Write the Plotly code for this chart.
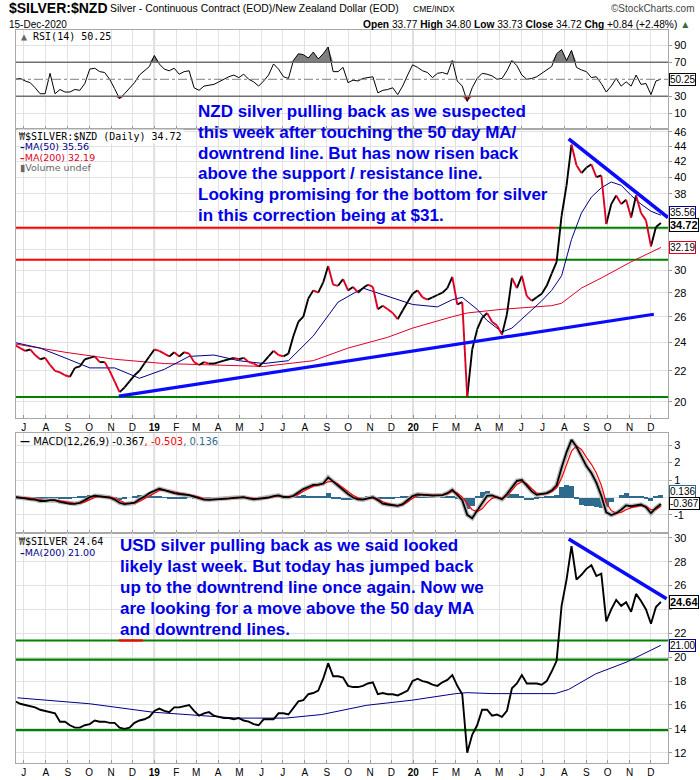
import math
import pandas as pd
import plotly.graph_objects as go

# ------------------------------------------------------------------ DATA
week_start = "2018-06-19"   # weekly (7-day) samples, last = 2020-12-15

nzd_close = [
    23.8, 23.6, 23.4, 23.5, 23.1, 22.8, 22.9, 22.4, 22.0, 21.9,
    21.7, 21.6, 22.2, 22.3, 22.8, 22.9, 23.0, 22.6, 22.6, 22.0,
    21.3, 20.6, 20.9, 21.3, 21.7, 22.0, 22.5, 23.0, 23.5, 23.4,
    23.2, 23.0, 23.3, 23.0, 23.3, 23.2, 22.6, 22.4, 22.6, 22.5,
    22.5, 22.6, 22.7, 22.8, 22.9, 22.8, 22.9, 22.6, 22.5, 22.3,
    22.6, 23.0, 23.4, 23.1, 23.0, 23.2, 24.5, 25.6, 26.0, 27.5,
    28.2, 28.0, 28.9, 30.4, 28.7, 28.6, 29.2, 28.2, 28.5, 28.0,
    28.4, 28.7, 28.5, 26.6, 26.9, 26.6, 26.3, 25.8, 26.5, 27.2,
    27.9, 28.2, 27.6, 27.4, 27.6, 27.8, 28.0, 28.4, 29.4, 27.0,
    27.2, 20.3, 23.5, 25.0, 25.9, 26.3, 25.6, 25.3, 24.6, 26.2,
    29.3, 28.4, 29.5, 27.7, 27.3, 27.6, 27.9, 28.6, 29.7, 30.8,
    35.5, 39.0, 44.2, 41.5, 40.5, 41.2, 41.6, 40.0, 40.2, 34.6,
    36.8, 37.8, 36.8, 37.3, 35.3, 37.8, 35.8, 35.0, 32.3, 34.3,
    34.72,
]

usd_close = [
    16.3, 16.1, 16.0, 15.9, 15.8, 15.6, 15.5, 15.4, 15.3, 14.6,
    14.6, 14.3, 14.1, 14.1, 14.3, 14.4, 14.7, 14.6, 14.6, 14.5,
    14.5, 14.1, 14.0, 14.1, 14.5, 14.7, 14.8, 15.0, 15.5, 15.7,
    15.5, 15.4, 15.8, 15.8, 15.9, 16.0, 15.5, 15.1, 15.3, 15.4,
    15.1, 15.0, 14.9, 14.9, 14.8, 14.9, 14.7, 14.6, 14.4, 14.3,
    14.8, 14.8, 14.8, 15.3, 15.3, 15.2, 15.8, 16.3, 16.4, 16.9,
    17.0, 17.2, 18.2, 19.5, 18.4, 18.4, 18.3, 17.6, 17.5, 17.5,
    17.6, 17.8, 17.9, 16.9, 17.0, 16.9, 16.9, 16.8, 17.0, 17.2,
    18.0, 18.2, 18.0, 17.9, 17.7, 17.6, 17.9, 18.1, 18.5, 17.6,
    16.9, 12.0, 13.5, 14.3, 15.6, 15.6, 15.1, 15.2, 15.0, 15.5,
    17.4, 17.8, 18.5, 17.8, 17.8, 17.8, 17.7, 18.0, 18.8, 19.7,
    24.3, 26.5, 29.3, 26.5, 26.9, 27.4, 27.7, 26.8, 27.0, 23.0,
    24.0, 24.8, 24.3, 24.6, 23.8, 25.3, 24.7, 24.0, 22.8, 24.2,
    24.64,
]

rsi14 = [
    50, 51, 48, 46, 40, 33, 33, 57, 33, 38,
    35, 35, 38, 37, 45, 62, 63, 59, 58, 50,
    39, 27, 33, 40, 46, 55, 60, 65, 78, 68,
    62, 60, 63, 56, 59, 60, 40, 37, 42, 43,
    44, 47, 50, 53, 55, 52, 56, 50, 47, 42,
    48, 55, 68, 62, 53, 51, 72, 80, 79, 75,
    82, 74, 80, 88, 59, 59, 64, 46, 49, 48,
    51, 52, 53, 34, 37, 38, 40, 32, 42, 55,
    67, 64, 60, 58, 52, 57, 58, 56, 72, 48,
    42, 24, 40, 51, 57, 56, 54, 50, 51, 60,
    72, 66, 55, 50, 51, 53, 57, 60, 65, 80,
    85, 72, 84, 64, 61, 59, 52, 53, 45, 35,
    42, 51, 42, 47, 42, 55, 44, 45, 32, 48,
    50.25,
]

macd_line = [
    0.02, 0.0, -0.05, -0.1, -0.12, -0.2, -0.2, -0.15, -0.15, -0.25,
    -0.3, -0.36, -0.36, -0.3, -0.15, 0.02, 0.1, 0.08, 0.06, 0.0,
    -0.12, -0.3, -0.38, -0.35, -0.3, -0.1, 0.05, 0.25, 0.36, 0.5,
    0.42, 0.33, 0.25, 0.2, 0.17, 0.14, 0.05, -0.04, -0.12, -0.13,
    -0.12, -0.1, -0.07, -0.05, -0.02, 0.0, 0.02, -0.05, -0.1, -0.07,
    -0.04, 0.0, 0.08, 0.12, 0.03, 0.02, 0.1, 0.28, 0.48, 0.6,
    0.72, 0.74, 0.8, 1.15, 0.9, 0.65, 0.45, 0.2, 0.0, -0.1,
    -0.12, -0.05, 0.02, -0.15, -0.35, -0.4, -0.45, -0.48, -0.38, -0.15,
    0.08, 0.18, 0.18, 0.14, 0.11, 0.12, 0.14, 0.25, 0.44, 0.15,
    -0.15, -0.99, -1.18, -0.75, -0.35, 0.1, 0.12, 0.02, -0.1, 0.2,
    0.6, 0.95, 1.0, 0.65, 0.35, 0.15, 0.18, 0.25, 0.4, 0.7,
    1.7, 2.6, 3.3, 2.9, 2.35, 1.8, 1.4, 0.85, 0.1, -0.85,
    -1.0, -0.9, -0.7, -0.45, -0.5, -0.45, -0.4, -0.55, -0.9, -0.6,
    -0.367,
]

macd_signal = [
    0.03, 0.02, 0.0, -0.04, -0.08, -0.13, -0.17, -0.17, -0.16, -0.19,
    -0.24, -0.3, -0.34, -0.33, -0.25, -0.12, 0.0, 0.06, 0.07, 0.04,
    -0.04, -0.17, -0.3, -0.35, -0.33, -0.22, -0.06, 0.12, 0.27, 0.4,
    0.43, 0.38, 0.3, 0.24, 0.2, 0.16, 0.1, 0.02, -0.07, -0.11,
    -0.12, -0.11, -0.09, -0.06, -0.04, -0.01, 0.01, -0.02, -0.07, -0.08,
    -0.06, -0.02, 0.04, 0.09, 0.06, 0.03, 0.06, 0.18, 0.36, 0.52,
    0.65, 0.71, 0.77, 0.9, 0.93, 0.76, 0.57, 0.35, 0.13, -0.02,
    -0.1, -0.08, -0.02, -0.08, -0.24, -0.35, -0.42, -0.46, -0.42, -0.26,
    -0.05, 0.1, 0.16, 0.15, 0.12, 0.12, 0.13, 0.2, 0.35, 0.25,
    0.02, -0.35, -0.7, -0.8, -0.65, -0.3, -0.05, 0.04, -0.05, 0.08,
    0.4, 0.75, 0.9, 0.78, 0.5, 0.25, 0.2, 0.22, 0.33, 0.55,
    1.1, 1.9, 2.65, 2.95, 2.75, 2.3, 1.9, 1.4, 0.7, -0.3,
    -0.75, -0.9, -0.85, -0.7, -0.58, -0.52, -0.47, -0.5, -0.7, -0.68,
    -0.503,
]

nzd_ma50_dates = [
    "2018-06-19", "2018-07-24", "2018-08-28", "2018-10-02", "2018-11-06", "2018-12-11",
    "2019-01-15", "2019-02-19", "2019-03-26", "2019-04-30", "2019-06-04", "2019-07-09",
    "2019-08-13", "2019-09-17", "2019-10-22", "2019-11-26", "2019-12-31", "2020-02-04",
    "2020-02-25", "2020-03-10", "2020-03-31", "2020-04-14", "2020-05-05", "2020-05-19",
    "2020-06-09", "2020-06-30", "2020-07-14", "2020-07-28", "2020-08-11", "2020-08-25",
    "2020-09-08", "2020-09-22", "2020-10-06", "2020-10-20", "2020-11-03", "2020-11-17",
    "2020-12-01", "2020-12-15",
]
nzd_ma50 = [
    24.0, 23.6, 22.9, 22.2, 22.2, 21.5,
    22.1, 23.0, 23.1, 22.7, 22.5, 22.7,
    24.5, 27.2, 28.4, 27.7, 27.0, 26.8,
    27.4, 27.6, 26.6, 25.7, 24.8, 25.1,
    26.2, 27.3, 28.2, 29.5, 33.0, 35.8,
    37.6, 38.7, 39.4, 39.0, 37.8, 36.8,
    36.0, 35.56,
]

nzd_ma200_dates = [
    "2018-06-19", "2018-08-28", "2018-11-06", "2019-01-15", "2019-03-26", "2019-06-04",
    "2019-08-13", "2019-10-01", "2019-11-26", "2019-12-31", "2020-02-25", "2020-03-17",
    "2020-05-05", "2020-07-14", "2020-07-28", "2020-08-25", "2020-09-22", "2020-11-03",
    "2020-12-15",
]
nzd_ma200 = [
    23.9, 23.3, 22.8, 22.5, 22.4, 22.3,
    22.7, 23.6, 24.4, 25.1, 26.0, 26.3,
    26.6, 26.9, 27.1, 28.4, 29.3, 30.8,
    32.19,
]

usd_ma200_dates = [
    "2018-06-22", "2018-10-02", "2018-12-29", "2019-02-17", "2019-04-27", "2019-07-05",
    "2019-08-25", "2019-10-27", "2019-12-30", "2020-03-01", "2020-03-17", "2020-04-21",
    "2020-07-19", "2020-08-07", "2020-09-14", "2020-10-28", "2020-12-15",
]
usd_ma200 = [
    16.6, 16.1, 15.4, 15.2, 14.9, 14.9,
    15.2, 15.97, 16.4, 16.95, 17.03, 16.95,
    16.95, 17.3, 18.6, 19.6, 21.0,
]

# drawn support / resistance and trend lines
nzd_red_green_levels = [34.2, 31.0]
nzd_level_switch = "2020-07-20"
nzd_green_levels = [20.3]
usd_green_levels = [21.4, 19.8, 13.9]
usd_red_piece_dates = ["2018-11-12", "2018-12-16"]
nzd_uptrend_dates = ["2018-11-12", "2020-12-05"]
nzd_uptrend = [20.35, 26.2]
nzd_downtrend_dates = ["2020-08-07", "2020-12-25"]
nzd_downtrend = [45.0, 35.3]
usd_downtrend_dates = ["2020-08-07", "2020-12-23"]
usd_downtrend = [29.9, 24.9]

month_letters = ["J", "F", "M", "A", "M", "J", "J", "A", "S", "O", "N", "D"]
x_first, x_last = "2018-06-20", "2020-12-25"

main_ticks = list(range(20, 47, 2))
main_hidden = [32, 34, 36]          # covered by the value tags
macd_ticks = [-1, 0, 1, 2, 3]
macd_hidden = [0]
usd_ticks = list(range(12, 31, 2))
usd_hidden = [24]
rsi_ticks = [10, 30, 70, 90]

header_open, header_high, header_low, header_close = "33.77", "34.80", "33.73", "34.72"
header_chg, header_pct = "+0.84", "+2.48%"

# ------------------------------------------------------------------ GEOMETRY / STYLE
W, H = 700, 780
ML, MR, MT, MB = 16, 32, 30, 17
PW, PH = W - ML - MR, H - MT - MB


def px(x):
    return (x - ML) / PW


def py(y):
    return (H - MB - y) / PH


FONT = "Liberation Sans, Arial, sans-serif"
MONO = "DejaVu Sans Mono, monospace"
VERD = "DejaVu Sans, Verdana, sans-serif"
GRID = "#e2e2e2"
FRAME = "#a8a8a8"
BLUE_TXT = "#0000e6"
NAVY = "#000088"
MA_RED = "#e0002a"
TEAL = "#2e6b8f"

wk = lambda s: pd.date_range(week_start, periods=len(s), freq="7D")
d_nzd, d_usd, d_rsi, d_macd = wk(nzd_close), wk(usd_close), wk(rsi14), wk(macd_line)

month_ticks = pd.date_range("2018-07-01", "2020-12-01", freq="MS")
month_text = [("<b>%s</b>" % d.strftime("%y")) if d.month == 1 else month_letters[d.month - 1]
              for d in month_ticks]

fig = go.Figure()

# ---------------- RSI panel
n = len(rsi14)
fig.add_trace(go.Scatter(x=d_rsi, y=[70] * n, mode="lines", line=dict(width=0), xaxis="x", yaxis="y", hoverinfo="skip"))
fig.add_trace(go.Scatter(x=d_rsi, y=[max(v, 70) for v in rsi14], mode="lines", line=dict(width=0),
                         fill="tonexty", fillcolor="#7f7f7f", xaxis="x", yaxis="y", hoverinfo="skip"))
fig.add_trace(go.Scatter(x=d_rsi, y=[30] * n, mode="lines", line=dict(width=0), xaxis="x", yaxis="y", hoverinfo="skip"))
fig.add_trace(go.Scatter(x=d_rsi, y=[min(v, 30) for v in rsi14], mode="lines", line=dict(width=0),
                         fill="tonexty", fillcolor="#d84040", xaxis="x", yaxis="y", hoverinfo="skip"))
fig.add_trace(go.Scatter(x=d_rsi, y=rsi14, mode="lines", line=dict(color="black", width=1), xaxis="x", yaxis="y"))

# ---------------- main NZD panel
for lvl in nzd_red_green_levels:
    fig.add_trace(go.Scatter(x=[x_first, nzd_level_switch], y=[lvl, lvl], mode="lines",
                             line=dict(color="#ff0000", width=2), xaxis="x2", yaxis="y2"))
    fig.add_trace(go.Scatter(x=[nzd_level_switch, x_last], y=[lvl, lvl], mode="lines",
                             line=dict(color="#008000", width=2), xaxis="x2", yaxis="y2"))
for lvl in nzd_green_levels:
    fig.add_trace(go.Scatter(x=[x_first, x_last], y=[lvl, lvl], mode="lines",
                             line=dict(color="#008000", width=2), xaxis="x2", yaxis="y2"))

fig.add_trace(go.Scatter(x=nzd_ma200_dates, y=nzd_ma200, mode="lines", line=dict(color=MA_RED, width=1),
                         xaxis="x2", yaxis="y2"))
fig.add_trace(go.Scatter(x=nzd_ma50_dates, y=nzd_ma50, mode="lines", line=dict(color=NAVY, width=1),
                         xaxis="x2", yaxis="y2"))

up_x, up_y, dn_x, dn_y = [], [], [], []
for k in range(1, len(nzd_close)):
    sx, sy = [d_nzd[k - 1], d_nzd[k], None], [nzd_close[k - 1], nzd_close[k], None]
    if nzd_close[k] >= nzd_close[k - 1]:
        up_x += sx; up_y += sy
    else:
        dn_x += sx; dn_y += sy
fig.add_trace(go.Scatter(x=up_x, y=up_y, mode="lines", line=dict(color="black", width=1.9),
                         xaxis="x2", yaxis="y2", connectgaps=False))
fig.add_trace(go.Scatter(x=dn_x, y=dn_y, mode="lines", line=dict(color="#dd0022", width=1.9),
                         xaxis="x2", yaxis="y2", connectgaps=False))

fig.add_trace(go.Scatter(x=nzd_uptrend_dates, y=nzd_uptrend, mode="lines", line=dict(color="#0a0aff", width=3.2),
                         xaxis="x2", yaxis="y2"))
fig.add_trace(go.Scatter(x=nzd_downtrend_dates, y=nzd_downtrend, mode="lines", line=dict(color="#0a0aff", width=3.6),
                         xaxis="x2", yaxis="y2"))

# ---------------- MACD panel
hist = [m - s for m, s in zip(macd_line, macd_signal)]
fig.add_trace(go.Bar(x=d_macd, y=hist, marker=dict(color=TEAL, line=dict(width=0)),
                     width=7 * 86400000, xaxis="x3", yaxis="y3"))
fig.add_trace(go.Scatter(x=d_macd, y=macd_line, mode="lines", line=dict(color="#b8b8b8", width=4.5),
                         xaxis="x3", yaxis="y3"))
fig.add_trace(go.Scatter(x=d_macd, y=macd_signal, mode="lines", line=dict(color="#ff0000", width=1.2),
                         xaxis="x3", yaxis="y3"))
fig.add_trace(go.Scatter(x=d_macd, y=macd_line, mode="lines", line=dict(color="black", width=1.8),
                         xaxis="x3", yaxis="y3"))

# ---------------- lower USD panel
for lvl in usd_green_levels:
    fig.add_trace(go.Scatter(x=[x_first, x_last], y=[lvl, lvl], mode="lines",
                             line=dict(color="#008000", width=2.2), xaxis="x4", yaxis="y4"))
fig.add_trace(go.Scatter(x=usd_red_piece_dates, y=[usd_green_levels[0]] * 2, mode="lines",
                         line=dict(color="#ff0000", width=2.2), xaxis="x4", yaxis="y4"))
fig.add_trace(go.Scatter(x=usd_ma200_dates, y=usd_ma200, mode="lines", line=dict(color=NAVY, width=1),
                         xaxis="x4", yaxis="y4"))
fig.add_trace(go.Scatter(x=d_usd, y=usd_close, mode="lines", line=dict(color="black", width=1.9),
                         xaxis="x4", yaxis="y4"))
fig.add_trace(go.Scatter(x=usd_downtrend_dates, y=usd_downtrend, mode="lines", line=dict(color="#0a0aff", width=3.6),
                         xaxis="x4", yaxis="y4"))

# ------------------------------------------------------------------ AXES


def xax(anchor, show):
    return dict(type="date", range=[x_first, x_last], anchor=anchor, domain=[0, 1],
                tickmode="array", tickvals=list(month_ticks), ticktext=month_text,
                showticklabels=show, ticks="inside", ticklen=3, tickcolor="#999999",
                showgrid=True, gridcolor=GRID, gridwidth=1, zeroline=False,
                showline=True, mirror=True, linecolor=FRAME, linewidth=1,
                tickfont=dict(family=FONT, size=10, color="black"), automargin=False)


def yax(anchor, dom, rng, vals, hidden=(), typ="linear"):
    return dict(type=typ, anchor=anchor, domain=dom, range=rng, side="right",
                tickmode="array", tickvals=vals, ticktext=[("" if v in hidden else "%g" % v) for v in vals],
                ticks="outside", ticklen=3, tickcolor="#999999",
                showgrid=True, gridcolor=GRID, gridwidth=1, zeroline=False,
                showline=True, mirror=True, linecolor=FRAME, linewidth=1,
                tickfont=dict(family=FONT, size=11, color="black"), automargin=False)


layout = dict(
    width=W, height=H, margin=dict(l=ML, r=MR, t=MT, b=MB, autoexpand=False),
    paper_bgcolor="white", plot_bgcolor="white", showlegend=False, bargap=0,
    xaxis=xax("y", False),
    yaxis=yax("x", [py(129), 1.0], [-8.5, 108], rsi_ticks),
    xaxis2=xax("y2", True),
    yaxis2=yax("x2", [py(418), py(129)], [math.log10(19.02), math.log10(46.4)],
               main_ticks, hidden=main_hidden, typ="log"),
    xaxis3=xax("y3", False),
    yaxis3=yax("x3", [py(533), py(433)], [-2.03, 3.69], macd_ticks, hidden=macd_hidden),
    xaxis4=xax("y4", True),
    yaxis4=yax("x4", [0, py(533)], [11.14, 30.4], usd_ticks, hidden=usd_hidden),
)
fig.update_layout(**layout)

# shapes: RSI reference lines and year separators
shapes = [
    dict(type="line", xref="x domain", yref="y", x0=0, x1=1, y0=70, y1=70, line=dict(color="#707070", width=1.5)),
    dict(type="line", xref="x domain", yref="y", x0=0, x1=1, y0=30, y1=30, line=dict(color="#707070", width=1.5)),
    dict(type="line", xref="x domain", yref="y", x0=0, x1=1, y0=50, y1=50,
         line=dict(color="#808080", width=1, dash="dashdot")),
]
for yr in ["2019-01-01", "2020-01-01"]:
    for yref in ["y domain", "y2 domain", "y3 domain", "y4 domain"]:
        shapes.append(dict(type="line", xref="x", yref=yref, x0=yr, x1=yr, y0=0, y1=1,
                           line=dict(color="#b4b4b4", width=1.5), layer="below"))
fig.update_layout(shapes=shapes)

# ------------------------------------------------------------------ TEXT
ann = []


def txt(x, y, text, size=10, color="black", family=FONT, anchor="left", bg=None):
    d = dict(xref="paper", yref="paper", x=px(x), y=py(y), text=text, showarrow=False,
             xanchor=anchor, yanchor="middle", font=dict(family=family, size=size, color=color))
    if bg:
        d["bgcolor"] = bg
    ann.append(d)


# header
txt(7, 8, "<b>$SILVER:$NZD</b>", 14)
txt(108, 9, "Silver - Continuous Contract (EOD)/New Zealand Dollar (EOD)", 10.4)
txt(411, 9, "CME/INDX", 8.5)
txt(697, 8, "©StockCharts.com", 10, color="#444444", anchor="right")
txt(7, 24, "15-Dec-2020", 10)
txt(692, 24, "<b>Open</b> %s <b>High</b> %s <b>Low</b> %s <b>Close</b> %s <b>Chg</b> %s (%s) "
    "<span style='color:#3a6a3a'>▲</span>" % (header_open, header_high, header_low, header_close,
                                              header_chg, header_pct), 10.2, anchor="right")

# panel legends
txt(19, 36, "<span style='color:#666'>▲</span> RSI(14) %.2f" % rsi14[-1], 10, family=MONO)
txt(17, 136, "<span style='color:#444'>₩</span>$SILVER:$NZD (Daily) %.2f" % nzd_close[-1], 10, family=MONO, bg="white")
txt(18, 147, "<b>–</b>MA(50) %.2f" % nzd_ma50[-1], 9.5, color=NAVY, family=VERD)
txt(18, 157.5, "<b>–</b>MA(200) %.2f" % nzd_ma200[-1], 9.5, color=MA_RED, family=VERD)
txt(18, 168, "▮Volume undef", 9.5, color="#666666", family=VERD)
txt(18, 441, "<b>—</b> MACD(12,26,9) %.3f<span style='color:#ff0000'>, %.3f</span>"
    "<span style='color:%s'>, %.3f</span>" % (macd_line[-1], macd_signal[-1], TEAL, hist[-1]), 10, family=VERD)
txt(17, 541, "<span style='color:#444'>₩</span>$SILVER %.2f" % usd_close[-1], 10, family=MONO)
txt(18, 552, "<b>–</b>MA(200) %.2f" % usd_ma200[-1], 9.5, color=NAVY, family=VERD)

# commentary
upper_lines = [
    "NZD silver pulling back as we suspected",
    "this week after touching the 50 day MA/",
    "downtrend line. But has now risen back",
    "above the support / resistance line.",
    "Looking promising for the bottom for silver",
    "in this correction being at $31.",
]
for i, s in enumerate(upper_lines):
    txt(196, 111.7 + i * 20.7, "<b>%s</b>" % s, 17, color=BLUE_TXT)
lower_lines = [
    "USD silver pulling back as we said looked",
    "likely last week. But today has jumped back",
    "up to the downtrend line once again. Now we",
    "are looking for a move above the 50 day MA",
    "and downtrend lines.",
]
for i, s in enumerate(lower_lines):
    txt(118, 545 + i * 21.2, "<b>%s</b>" % s, 17, color=BLUE_TXT)


# value tags on right axes
def tag(text, y, yref, color, bold=False, size=10, shift=0):
    ann.append(dict(xref="paper", yref=yref, x=1, y=y, xanchor="left", yanchor="middle", xshift=1, yshift=shift,
                    showarrow=False, text=("<b>%s</b>" % text) if bold else text,
                    font=dict(family=FONT, size=size, color="black"),
                    bgcolor="white", bordercolor=color, borderwidth=1, borderpad=0))


tag("%.2f" % rsi14[-1], rsi14[-1], "y", "black")
tag("%.2f" % nzd_ma50[-1], math.log10(nzd_ma50[-1]), "y2", NAVY, shift=3)
tag("%.2f" % nzd_ma200[-1], math.log10(nzd_ma200[-1]), "y2", MA_RED)
tag("%.2f" % nzd_close[-1], math.log10(nzd_close[-1]), "y2", "black", bold=True, size=11, shift=-2)
tag("%.3f" % hist[-1], hist[-1], "y3", TEAL, shift=4)
tag("%.3f" % macd_line[-1], macd_line[-1], "y3", "black", shift=0)
tag("%.2f" % usd_ma200[-1], usd_ma200[-1], "y4", NAVY)
tag("%.2f" % usd_close[-1], usd_close[-1], "y4", "black", bold=True, size=11)

fig.update_layout(annotations=ann)
fig.write_html("out.html", config={"displayModeBar": False})
